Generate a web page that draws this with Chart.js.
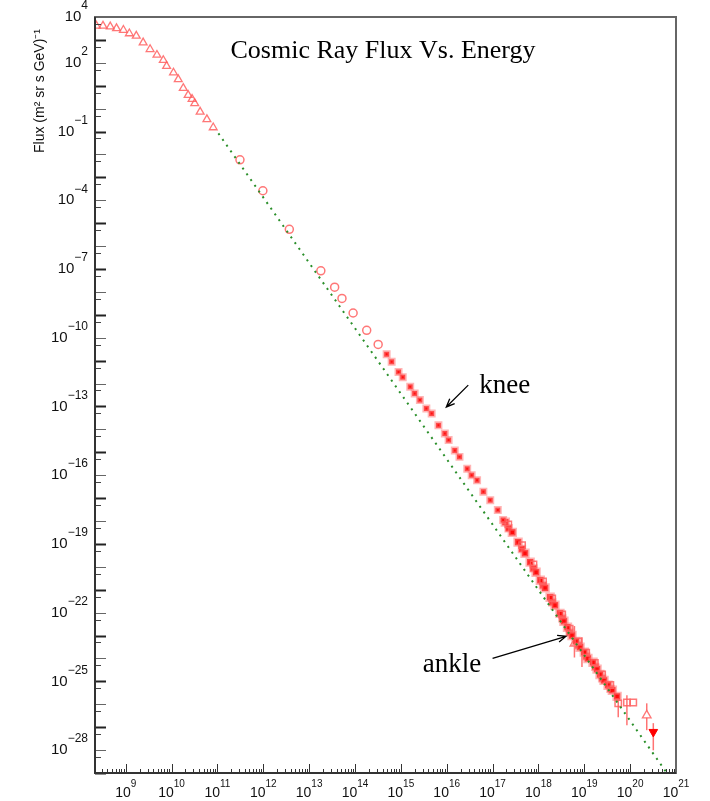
<!DOCTYPE html>
<html>
<head>
<meta charset="utf-8">
<script src="https://cdn.jsdelivr.net/npm/chart.js@4.4.0/dist/chart.umd.min.js"></script>
<style>
  html, body { margin: 0; padding: 0; background: #fff; }
</style>
</head>
<body>
<canvas id="flux" width="710" height="801"></canvas>
<script>
// Energy in eV, flux in (m^2 sr s GeV)^-1

// low energy (open triangles)
const energyTri = [2.3e8, 3.2e8, 4.6e8, 6.3e8, 8.9e8, 1.2e9, 1.7e9, 2.4e9, 3.4e9, 4.8e9, 6.6e9,
  7.8e9, 1.1e10, 1.4e10, 1.8e10, 2.3e10, 2.8e10, 3.2e10, 4.2e10, 5.9e10, 8.1e10];
const fluxTri = [4.1e3, 4.1e3, 3.8e3, 3.2e3, 2.7e3, 1.9e3, 1.5e3, 7.6e2, 3.9e2, 2.2e2, 1.3e2,
  72, 37, 19, 7.8, 3.9, 2.6, 1.7, 0.72, 0.34, 0.15];

// open circles
const energyCirc = [3.1e11, 9.8e11, 3.7e12, 1.8e13, 3.6e13, 5.2e13, 9.1e13, 1.8e14, 3.2e14];
const fluxCirc = [5.8e-3, 2.6e-4, 5.4e-6, 8.3e-8, 1.6e-8, 5.2e-9, 1.2e-9, 2.1e-10, 5.1e-11];

// knee region
const energyKnee = [4.9e14, 6.3e14, 8.9e14, 1.1e15, 1.6e15, 2.0e15, 2.6e15, 3.6e15, 4.7e15, 6.6e15,
  9.1e15, 1.1e16, 1.5e16, 1.9e16, 2.8e16, 3.5e16, 4.6e16, 6.3e16, 8.9e16, 1.3e17, 1.7e17];
const fluxKnee = [1.9e-11, 8.9e-12, 3.2e-12, 1.9e-12, 7.2e-13, 3.7e-13, 1.9e-13, 8.1e-14, 4.9e-14, 1.5e-14,
  6.6e-15, 3.4e-15, 1.2e-15, 6.3e-16, 1.9e-16, 1.0e-16, 6.0e-17, 1.9e-17, 8.1e-18, 3.0e-18, 1.1e-18];

// ankle band (filled)
const energyBand = [1.9e17, 2.7e17, 3.6e17, 5.1e17, 6.6e17, 8.9e17, 1.1e18, 1.4e18, 1.8e18, 2.3e18,
  2.95e18, 3.6e18, 4.3e18, 5.4e18, 6.6e18, 8.1e18, 1.0e19, 1.2e19, 1.55e19, 1.9e19, 2.2e19, 2.7e19,
  3.3e19, 4.1e19, 5.2e19];
const fluxBand = [8.9e-19, 3.2e-19, 1.2e-19, 3.9e-20, 1.6e-20, 5.8e-21, 2.6e-21, 1.2e-21, 4.7e-22, 2.1e-22,
  9.3e-23, 4.2e-23, 2.3e-23, 1.0e-23, 5.6e-24, 3.1e-24, 1.9e-24, 1.0e-24, 6.8e-25, 3.4e-25, 2.0e-25, 1.1e-25,
  6.8e-26, 4.1e-26, 2.2e-26];

// ankle band, second experiment (filled)
const energyBand2 = [2.24e17, 4.37e17, 7.76e17, 1.26e18, 2.0e18, 3.31e18, 4.79e18, 7.41e18, 1.1e19,
  1.74e19, 2.45e19, 3.72e19];
const fluxBand2 = [4.8e-19, 6.0e-20, 8.5e-21, 1.55e-21, 2.8e-22, 5.6e-23, 1.35e-23, 3.7e-24, 1.23e-24,
  4.3e-25, 1.35e-25, 4.7e-26];

// ankle band (open squares)
const energyOpenSq = [2.2e17, 4.4e17, 7.8e17, 1.26e18, 2.0e18, 3.3e18, 4.8e18, 7.4e18, 1.1e19, 1.7e19,
  2.45e19, 3.7e19, 5.5e19, 8.5e19, 1.17e20];
const fluxOpenSq = [7.1e-19, 8.9e-20, 1.26e-20, 2.3e-21, 4.2e-22, 8.3e-23, 2.0e-23, 5.5e-24, 1.8e-24, 6.3e-25,
  2.0e-25, 6.9e-26, 1.1e-26, 1.2e-26, 1.2e-26];

// highest energies
const energyOpenTri = [6.1e18, 2.3e20];
const fluxOpenTri = [4.5e-24, 3.3e-27];
const energyDownTri = [3.2e20];
const fluxDownTri = [6.2e-28];

// error bars
const errEnergy = [6.1e18, 8.9e18, 5.5e19, 8.5e19, 2.3e20, 3.2e20];
const errLow = [1.1e-24, 4.2e-25, 2.7e-27, 1.2e-27, 7.4e-28, 9.8e-29];
const errHigh = [2.6e-23, 8.5e-24, 1.5e-26, 2.5e-26, 1.1e-26, 1.5e-27];

// power law guide line
const fitEnergy = [1.05e11, 6.3e20];
const fitFlux = [8.3e-2, 1.0e-29];

// tick labels (powers of ten)
const xLabelExps = [9, 10, 11, 12, 13, 14, 15, 16, 17, 18, 19, 20, 21];
const yLabelExps = [4, 2, -1, -4, -7, -10, -13, -16, -19, -22, -25, -28];

// annotations, anchored in data space
const notes = [
  { text: 'knee', at: [5.1e16, 3.8e-13], from: [2.95e16, 8.5e-13], to: [9.8e15, 9.5e-14] },
  { text: 'ankle', at: [3.0e15, 2.5e-25], from: [1.0e17, 1.0e-24], to: [4.0e18, 9.3e-24] }
];

const pts = (xs, ys) => xs.map((x, i) => ({ x, y: ys[i] }));
const SANS = '"Liberation Sans", Arial, sans-serif';
const SERIF = '"Liberation Serif", "Times New Roman", serif';

function sup(n) {
  return n < 0 ? '\u2212' + Math.abs(n) : String(n);
}

const errorBars = {
  id: 'errorBars',
  beforeDatasetsDraw(chart) {
    const { ctx, scales: { x, y } } = chart;
    ctx.save();
    ctx.strokeStyle = 'rgba(255,90,90,0.85)';
    ctx.lineWidth = 1.5;
    errEnergy.forEach((e, i) => {
      const px = x.getPixelForValue(e);
      ctx.beginPath();
      ctx.moveTo(px, y.getPixelForValue(errLow[i]));
      ctx.lineTo(px, y.getPixelForValue(errHigh[i]));
      ctx.stroke();
    });
    ctx.restore();
  }
};

const axesFrame = {
  id: 'axesFrame',
  afterDraw(chart) {
    const { ctx, chartArea: a, scales: { x, y } } = chart;
    ctx.save();

    // x ticks, inward
    ctx.strokeStyle = '#333';
    ctx.lineWidth = 1;
    for (let e = 8; e <= 21; e++) {
      for (let m = 1; m <= 9; m++) {
        const v = m * Math.pow(10, e);
        if (v < x.min || v > x.max * 1.0001) continue;
        const px = Math.round(x.getPixelForValue(v)) + 0.5;
        ctx.beginPath();
        ctx.moveTo(px, a.bottom);
        ctx.lineTo(px, a.bottom - (m === 1 ? 9 : 4));
        ctx.stroke();
      }
    }

    // y ticks, inward: decades and 5x
    for (let e = -29; e <= 4; e++) {
      const py = Math.round(y.getPixelForValue(Math.pow(10, e))) + 0.5;
      ctx.lineWidth = (e % 2 !== 0) ? 2 : 1;
      ctx.strokeStyle = (e % 2 !== 0) ? '#222' : '#666';
      ctx.beginPath();
      ctx.moveTo(a.left, py);
      ctx.lineTo(a.left + 11, py);
      ctx.stroke();
      const v5 = 5 * Math.pow(10, e - 1);
      if (v5 > y.min) {
        const p5 = Math.round(y.getPixelForValue(v5)) + 0.5;
        ctx.lineWidth = 1;
        ctx.strokeStyle = '#444';
        ctx.beginPath();
        ctx.moveTo(a.left, p5);
        ctx.lineTo(a.left + 6, p5);
        ctx.stroke();
      }
    }

    // frame
    ctx.lineWidth = 2;
    ctx.strokeStyle = '#666';
    ctx.strokeRect(a.left, a.top, a.right - a.left, a.bottom - a.top);
    ctx.strokeStyle = '#333';
    ctx.beginPath();
    ctx.moveTo(a.left, a.top);
    ctx.lineTo(a.left, a.bottom);
    ctx.lineTo(a.right, a.bottom);
    ctx.stroke();

    // x labels
    ctx.fillStyle = '#111';
    ctx.textBaseline = 'middle';
    xLabelExps.forEach(e => {
      const px = x.getPixelForValue(Math.pow(10, e));
      ctx.font = '14px ' + SANS;
      const wb = ctx.measureText('10').width;
      ctx.font = '10px ' + SANS;
      const we = ctx.measureText(sup(e)).width;
      const x0 = px - (wb + we) / 2;
      ctx.textAlign = 'left';
      ctx.font = '14px ' + SANS;
      ctx.fillText('10', x0, a.bottom + 20);
      ctx.font = '10px ' + SANS;
      ctx.fillText(sup(e), x0 + wb, a.bottom + 11);
    });

    // y labels, right aligned
    yLabelExps.forEach(e => {
      const py = y.getPixelForValue(Math.pow(10, e));
      const right = a.left - 7;
      ctx.font = '12px ' + SANS;
      const we = ctx.measureText(sup(e)).width;
      ctx.textAlign = 'right';
      ctx.fillText(sup(e), right, py - 11);
      ctx.font = '15px ' + SANS;
      ctx.fillText('10', right - we, py);
    });

    // y axis title
    ctx.save();
    ctx.translate(40, 91);
    ctx.rotate(-Math.PI / 2);
    ctx.textAlign = 'center';
    ctx.font = '14px ' + SANS;
    ctx.fillText('Flux (m\u00b2 sr s GeV)\u207b\u00b9', 0, 0);
    ctx.restore();

    // title
    ctx.font = '26px ' + SERIF;
    ctx.textAlign = 'center';
    ctx.textBaseline = 'alphabetic';
    ctx.fillStyle = '#000';
    ctx.fillText('Cosmic Ray Flux Vs. Energy', 383, 58);

    ctx.restore();
  }
};

const annotate = {
  id: 'annotate',
  afterDraw(chart) {
    const { ctx, scales: { x, y } } = chart;
    ctx.save();
    ctx.fillStyle = '#000';
    ctx.strokeStyle = '#000';
    ctx.lineWidth = 1.3;
    ctx.font = '27px ' + SERIF;
    ctx.textAlign = 'left';
    ctx.textBaseline = 'alphabetic';
    notes.forEach(n => {
      ctx.fillText(n.text, x.getPixelForValue(n.at[0]), y.getPixelForValue(n.at[1]));
      const x1 = x.getPixelForValue(n.from[0]), y1 = y.getPixelForValue(n.from[1]);
      const x2 = x.getPixelForValue(n.to[0]), y2 = y.getPixelForValue(n.to[1]);
      const ang = Math.atan2(y2 - y1, x2 - x1);
      ctx.beginPath();
      ctx.moveTo(x1, y1);
      ctx.lineTo(x2, y2);
      ctx.moveTo(x2 - 9 * Math.cos(ang - 0.4), y2 - 9 * Math.sin(ang - 0.4));
      ctx.lineTo(x2, y2);
      ctx.lineTo(x2 - 9 * Math.cos(ang + 0.4), y2 - 9 * Math.sin(ang + 0.4));
      ctx.stroke();
    });
    ctx.restore();
  }
};

const pink = 'rgba(255,95,95,0.85)';
const halo = 'rgba(255,120,120,0.55)';

new Chart(document.getElementById('flux'), {
  type: 'scatter',
  data: {
    datasets: [
      {
        label: 'fit', data: pts(fitEnergy, fitFlux), showLine: true,
        borderColor: '#2a8f2a', borderWidth: 2, borderDash: [2, 5], pointRadius: 0
      },
      {
        label: 'triangles', data: pts(energyTri, fluxTri), pointStyle: 'triangle',
        pointRadius: 4.5, borderColor: pink, borderWidth: 1.3, backgroundColor: 'transparent'
      },
      {
        label: 'circles', data: pts(energyCirc, fluxCirc), pointStyle: 'circle',
        pointRadius: 4, borderColor: pink, borderWidth: 1.5, backgroundColor: 'transparent'
      },
      {
        label: 'knee', data: pts(energyKnee, fluxKnee), pointStyle: 'rect',
        pointRadius: 3.5, borderColor: halo, borderWidth: 3, backgroundColor: '#ff1010'
      },
      {
        label: 'open squares', data: pts(energyOpenSq, fluxOpenSq), pointStyle: 'rect',
        pointRadius: 4.5, borderColor: pink, borderWidth: 1.5, backgroundColor: 'transparent'
      },
      {
        label: 'band', data: pts(energyBand, fluxBand), pointStyle: 'rect',
        pointRadius: 4.5, borderColor: halo, borderWidth: 3, backgroundColor: '#ff0a0a'
      },
      {
        label: 'band 2', data: pts(energyBand2, fluxBand2), pointStyle: 'rect',
        pointRadius: 4.5, borderColor: halo, borderWidth: 2, backgroundColor: '#ff1a1a'
      },
      {
        label: 'open triangles', data: pts(energyOpenTri, fluxOpenTri), pointStyle: 'triangle',
        pointRadius: 5, borderColor: pink, borderWidth: 1.3, backgroundColor: '#fff'
      },
      {
        label: 'down triangle', data: pts(energyDownTri, fluxDownTri), pointStyle: 'triangle',
        rotation: 180, pointRadius: 5, borderColor: '#ff0000', borderWidth: 1, backgroundColor: '#ff0000'
      }
    ]
  },
  options: {
    responsive: false,
    animation: false,
    layout: { padding: { left: 95, top: 17, right: 34, bottom: 28 } },
    scales: {
      x: { type: 'logarithmic', min: 2.14e8, max: 1e21, display: false },
      y: { type: 'logarithmic', min: 1e-29, max: 1e4, display: false }
    },
    plugins: {
      legend: { display: false },
      tooltip: { enabled: false }
    }
  },
  plugins: [errorBars, axesFrame, annotate]
});
</script>
</body>
</html>
